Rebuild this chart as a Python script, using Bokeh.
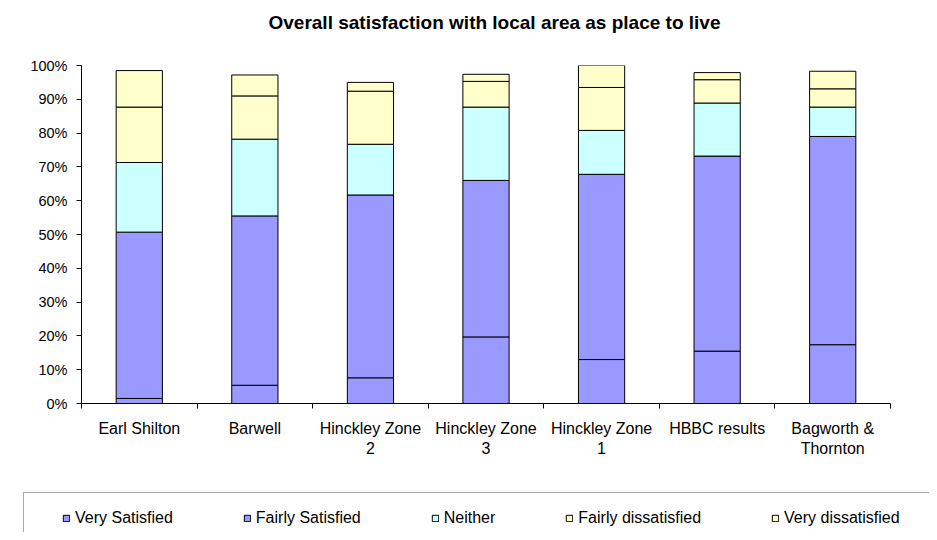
from bokeh.plotting import figure
from bokeh.models import (Legend, LegendItem, FixedTicker, NumeralTickFormatter,
                          Range1d, Title, ColumnDataSource)
from bokeh.embed import file_html
from bokeh.resources import INLINE

categories = ["Earl Shilton", "Barwell", "Hinckley Zone\n2", "Hinckley Zone\n3",
              "Hinckley Zone\n1", "HBBC results", "Bagworth &\nThornton"]
very_satisfied = [1.5, 5.4, 7.6, 19.7, 13.0, 15.5, 17.4]
fairly_satisfied = [49.2, 50.1, 54.1, 46.3, 54.8, 57.7, 61.6]
neither = [20.6, 22.7, 15.0, 21.7, 13.0, 15.7, 8.7]
fairly_dissatisfied = [16.4, 12.8, 15.7, 7.6, 12.7, 6.9, 5.4]
very_dissatisfied = [10.8, 6.2, 2.6, 2.1, 6.5, 2.1, 5.2]
series_names = ["Very Satisfied", "Fairly Satisfied", "Neither",
                "Fairly dissatisfied", "Very dissatisfied"]
series_colors = ["#9999FF", "#9999FF", "#CCFFFF", "#FFFFCC", "#FFFFCC"]
y_ticks = [0, 0.1, 0.2, 0.3, 0.4, 0.5, 0.6, 0.7, 0.8, 0.9, 1.0]

FONT = "Liberation Sans"
W = 929

n = len(categories)
xs = [i + 0.5 for i in range(n)]
keys = ["vs", "fs", "ne", "fd", "vd"]
data = {"x": xs}
for k, vals in zip(keys, [very_satisfied, fairly_satisfied, neither,
                          fairly_dissatisfied, very_dissatisfied]):
    data[k] = [v / 100.0 for v in vals]
src = ColumnDataSource(data)

p = figure(width=W, height=470, output_backend="svg", toolbar_location=None,
           x_range=Range1d(0, n), y_range=Range1d(0, 1),
           frame_width=809, frame_height=338,
           min_border_left=81, min_border_right=W - 81 - 809,
           min_border_top=65, min_border_bottom=470 - 65 - 338)
p.title = None
p.outline_line_color = None
p.xgrid.visible = False
p.ygrid.visible = False
p.background_fill_color = "white"
p.border_fill_color = "white"

renderers = p.vbar_stack(keys, x="x", width=0.4, source=src,
                         fill_color=series_colors, line_color="black", line_width=1)

spacer = Title(text=" ", text_font=FONT, text_font_size="10px", standoff=15)
p.add_layout(spacer, "above")
t = Title(text="Overall satisfaction with local area as place to live",
          text_font=FONT, text_font_size="19px", text_font_style="bold",
          text_color="black", align="left", offset=187, standoff=10)
p.add_layout(t, "above")

ya = p.yaxis[0]
ya.ticker = FixedTicker(ticks=y_ticks)
ya.formatter = NumeralTickFormatter(format="0%")
ya.major_label_text_font = FONT
ya.major_label_text_font_size = "14.5px"
ya.major_label_text_color = "black"
ya.major_tick_out = 5
ya.major_tick_in = 0
ya.minor_tick_out = 0
ya.minor_tick_in = 0
ya.major_label_standoff = 9
ya.axis_line_color = "black"
ya.major_tick_line_color = "black"

xa = p.xaxis[0]
xa.ticker = FixedTicker(ticks=xs, minor_ticks=list(range(n + 1)))
xa.major_label_overrides = {x: c for x, c in zip(xs, categories)}
xa.major_label_text_font = FONT
xa.major_label_text_font_size = "16px"
xa.major_label_text_color = "black"
xa.major_tick_out = 0
xa.major_tick_in = 0
xa.minor_tick_out = 5
xa.minor_tick_in = 0
xa.minor_tick_line_color = "black"
xa.major_label_standoff = 11
xa.axis_line_color = "black"

# Legend strip: a separate figure whose frame is the whole canvas;
# its y range lies above the data, so the proxy bars are out of view.
LH = 540 - 8 - 470
q = figure(width=W, height=LH, output_backend="svg", toolbar_location=None,
           x_range=Range1d(0, n), y_range=Range1d(5, 6),
           x_axis_location=None, y_axis_location=None,
           min_border_left=0, min_border_right=0, min_border_top=0, min_border_bottom=0)
q.title = None
q.outline_line_color = None
q.xgrid.visible = False
q.ygrid.visible = False
q.background_fill_color = "white"
q.border_fill_color = "white"

dummy = q.vbar(x="x", top="vs", width=0.4, source=src, fill_alpha=0, line_alpha=0)
leg_box = Legend(items=[LegendItem(label=" ", renderers=[dummy])],
                 location=(23, -24), padding=20, margin=0,
                 label_width=1200, label_height=22, glyph_height=8, glyph_width=8,
                 border_line_color="#555555", border_line_width=1,
                 background_fill_color="white", background_fill_alpha=1.0,
                 label_text_font=FONT, label_text_font_size="16px")
q.add_layout(leg_box, "center")

swatches = q.vbar_stack(keys, x="x", width=0.4, source=src,
                        fill_color=series_colors, line_color="black", line_width=1)
leg = Legend(items=[LegendItem(label=nm, renderers=[r]) for nm, r in zip(series_names, swatches)],
             orientation="horizontal", location=(62, 3), padding=0, margin=0,
             spacing=70, label_standoff=5, glyph_width=8, glyph_height=8,
             label_height=22,
             border_line_color=None, background_fill_alpha=0.0,
             label_text_font=FONT, label_text_font_size="16px", label_text_color="black")
q.add_layout(leg, "center")

open("out.html", "w").write(file_html([p, q], INLINE))
